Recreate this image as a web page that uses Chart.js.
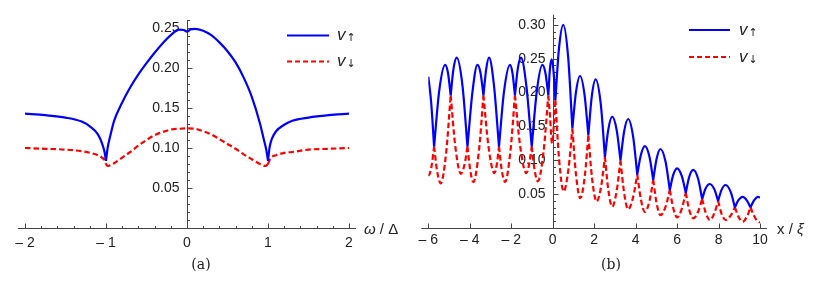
<!DOCTYPE html>
<html>
<head>
<meta charset="utf-8">
<script src="https://cdn.jsdelivr.net/npm/chart.js@4.4.1/dist/chart.umd.min.js"></script>
<style>
html, body { margin: 0; padding: 0; background: #fff; }
#wrap { position: relative; width: 821px; height: 288px; }
canvas { position: absolute; top: 0; }
</style>
</head>
<body>
<div id="wrap">
    <canvas id="chartA" width="410" height="288" style="left:0"></canvas>
    <canvas id="chartB" width="411" height="288" style="left:410px"></canvas>
</div>
<script>
// ---- panel (a): v vs omega / Delta ----
const aCusps = [-1, 1];
const aUp = [
    [-2, 0.143], [-1.75, 0.141], [-1.5, 0.138], [-1.3, 0.133], [-1.2, 0.127], [-1.1, 0.117],
    [-1.05, 0.106], [-1.02, 0.096], [-1, 0.084], [-0.98, 0.100], [-0.95, 0.114], [-0.9, 0.134],
    [-0.8, 0.157], [-0.7, 0.176], [-0.6, 0.192], [-0.5, 0.206], [-0.4, 0.219], [-0.3, 0.231],
    [-0.2, 0.241], [-0.1, 0.248], [-0.04, 0.2475], [0, 0.2455], [0.04, 0.248], [0.1, 0.249],
    [0.2, 0.2465], [0.3, 0.241], [0.4, 0.232], [0.5, 0.221], [0.6, 0.207], [0.7, 0.188],
    [0.8, 0.164], [0.9, 0.131], [0.95, 0.110], [0.98, 0.097], [1, 0.084], [1.02, 0.101],
    [1.05, 0.112], [1.1, 0.121], [1.2, 0.129], [1.3, 0.134], [1.5, 0.138], [1.75, 0.141], [2, 0.143]
];
const aDown = [
    [-2, 0.100], [-1.75, 0.099], [-1.5, 0.098], [-1.3, 0.096], [-1.2, 0.094], [-1.1, 0.091],
    [-1.05, 0.088], [-1.02, 0.085], [-1, 0.080], [-0.98, 0.0775], [-0.9, 0.081], [-0.8, 0.088],
    [-0.7, 0.095], [-0.6, 0.103], [-0.5, 0.110], [-0.4, 0.116], [-0.3, 0.120], [-0.2, 0.123],
    [-0.1, 0.124], [0, 0.1245], [0.1, 0.124], [0.2, 0.121], [0.3, 0.117], [0.4, 0.111],
    [0.5, 0.105], [0.6, 0.099], [0.7, 0.092], [0.8, 0.086], [0.9, 0.080], [0.97, 0.0775],
    [1, 0.080], [1.02, 0.085], [1.05, 0.089], [1.1, 0.091], [1.2, 0.094], [1.3, 0.095],
    [1.5, 0.098], [1.75, 0.099], [2, 0.100]
];
const aXTicks = [-2, -1, 0, 1, 2];
const aXLabels = ['\u2013 2', '\u2013 1', '0', '1', '2'];
const aYTicks = [0.05, 0.10, 0.15, 0.20, 0.25];
const aYLabels = ['0.05', '0.10', '0.15', '0.20', '0.25'];

// ---- panel (b): v vs x / xi ----
const bCusps = [-5.72, -4.92, -4.11, -3.34, -2.59, -1.82, -1.01, -0.21, 0.13, 0.95, 1.72,
    2.52, 3.27, 4.08, 4.85, 5.65, 6.42, 7.21, 7.98, 8.79, 9.54];
const bUp = [
    [-6, 0.2235], [-5.86, 0.185], [-5.72, 0.120],
    [-5.48, 0.201], [-5.19, 0.241], [-5.05, 0.229], [-4.92, 0.196],
    [-4.79, 0.234], [-4.63, 0.2516], [-4.35, 0.210], [-4.11, 0.120],
    [-3.87, 0.201], [-3.63, 0.241], [-3.48, 0.229], [-3.34, 0.196],
    [-3.21, 0.234], [-3.07, 0.2516], [-2.83, 0.210], [-2.59, 0.120],
    [-2.35, 0.201], [-2.06, 0.241], [-1.94, 0.229], [-1.82, 0.196],
    [-1.69, 0.234], [-1.53, 0.2516], [-1.27, 0.210], [-1.01, 0.120],
    [-0.77, 0.201], [-0.50, 0.241], [-0.35, 0.229], [-0.21, 0.196],
    [-0.13, 0.236], [-0.04, 0.249], [0.05, 0.228], [0.13, 0.189],
    [0.30, 0.264], [0.51, 0.300], [0.75, 0.251], [0.95, 0.147],
    [1.12, 0.200], [1.32, 0.2245], [1.54, 0.196], [1.72, 0.137],
    [1.88, 0.193], [2.07, 0.2196], [2.32, 0.183], [2.52, 0.105],
    [2.68, 0.145], [2.87, 0.1644], [3.09, 0.144], [3.27, 0.100],
    [3.44, 0.1415], [3.64, 0.161], [3.88, 0.135], [4.08, 0.079],
    [4.25, 0.1075], [4.45, 0.121], [4.67, 0.105], [4.85, 0.071],
    [5.01, 0.102], [5.20, 0.1167], [5.45, 0.097], [5.65, 0.056],
    [5.81, 0.078], [6.00, 0.088], [6.23, 0.0765], [6.42, 0.052],
    [6.58, 0.075], [6.78, 0.0857], [7.02, 0.072], [7.21, 0.0428],
    [7.37, 0.058], [7.58, 0.065], [7.80, 0.057], [7.98, 0.040],
    [8.14, 0.056], [8.34, 0.0635], [8.59, 0.053], [8.79, 0.0305],
    [8.96, 0.041], [9.16, 0.046], [9.37, 0.0405], [9.54, 0.0305],
    [9.72, 0.041], [9.90, 0.046], [10, 0.045]
];
const bDown = [
    [-6, 0.077], [-5.92, 0.081], [-5.84, 0.092], [-5.72, 0.120],
    [-5.58, 0.085], [-5.40, 0.066], [-5.14, 0.111], [-4.92, 0.196],
    [-4.70, 0.121], [-4.43, 0.080], [-4.25, 0.094], [-4.11, 0.120],
    [-3.98, 0.086], [-3.83, 0.068], [-3.56, 0.113], [-3.34, 0.196],
    [-3.10, 0.121], [-2.81, 0.081], [-2.69, 0.095], [-2.59, 0.120],
    [-2.46, 0.086], [-2.30, 0.068], [-2.04, 0.113], [-1.82, 0.196],
    [-1.57, 0.121], [-1.27, 0.081], [-1.13, 0.095], [-1.01, 0.120],
    [-0.88, 0.087], [-0.72, 0.069], [-0.44, 0.113], [-0.21, 0.196],
    [-0.13, 0.165], [-0.03, 0.125], [0.05, 0.150], [0.13, 0.189],
    [0.31, 0.101], [0.53, 0.054], [0.76, 0.087], [0.95, 0.147],
    [1.12, 0.080], [1.33, 0.044], [1.55, 0.077], [1.72, 0.137],
    [1.90, 0.073], [2.12, 0.039], [2.34, 0.062], [2.52, 0.105],
    [2.68, 0.057], [2.87, 0.0315], [3.09, 0.0555], [3.27, 0.100],
    [3.44, 0.053], [3.64, 0.0276], [3.88, 0.0456], [4.08, 0.079],
    [4.25, 0.043], [4.45, 0.0236], [4.67, 0.040], [4.85, 0.071],
    [5.01, 0.037], [5.20, 0.019], [5.45, 0.032], [5.65, 0.056],
    [5.81, 0.030], [6.00, 0.0158], [6.23, 0.0285], [6.42, 0.052],
    [6.58, 0.0275], [6.78, 0.0143], [7.02, 0.0243], [7.21, 0.0428],
    [7.38, 0.0228], [7.58, 0.0118], [7.80, 0.022], [7.98, 0.040],
    [8.14, 0.0217], [8.34, 0.0118], [8.59, 0.0185], [8.79, 0.0305],
    [8.96, 0.0167], [9.16, 0.0093], [9.37, 0.0167], [9.54, 0.0305],
    [9.70, 0.019], [9.85, 0.011], [10, 0.0078]
];
const bXTicks = [-6, -4, -2, 0, 2, 4, 6, 8, 10];
const bXLabels = ['\u2013 6', '\u2013 4', '\u2013 2', '0', '2', '4', '6', '8', '10'];
const bYTicks = [0.05, 0.10, 0.15, 0.20, 0.25, 0.30];
const bYLabels = ['0.05', '0.10', '0.15', '0.20', '0.25', '0.30'];

const BLUE = '#0000ff';
const RED = '#ff0000';
const AXIS = '#444';
const TEXT = '#222';
const SANS = '"Liberation Sans", Arial, sans-serif';

// break the line at each cusp so the curve keeps its sharp corner
function toPoints(pairs, cusps) {
    const pts = [];
    pairs.forEach(([x, v], i) => {
        pts.push({ x: x, y: v });
        if (cusps.includes(x) && i > 0 && i < pairs.length - 1) {
            pts.push({ x: x, y: null });
            pts.push({ x: x, y: v });
        }
    });
    return pts;
}

function drawV(ctx, x, y, arrow) {
    ctx.fillStyle = TEXT;
    ctx.textAlign = 'left';
    ctx.textBaseline = 'alphabetic';
    ctx.font = 'italic 17px ' + SANS;
    ctx.fillText('v', x, y + 4.5);
    ctx.font = '11px "DejaVu Sans", sans-serif';
    ctx.textBaseline = 'middle';
    ctx.fillText(arrow, x + 9.5, y + 3);
}

function framePlugin(cfg) {
    return {
        id: 'frame',
        beforeDatasetsDraw(chart) {
            const { ctx } = chart;
            const xs = chart.scales.x, ys = chart.scales.y;
            const x0 = Math.round(xs.getPixelForValue(0)) + 0.5;
            const y0 = Math.round(ys.getPixelForValue(0)) + 0.5;
            ctx.save();
            ctx.strokeStyle = AXIS;
            ctx.lineWidth = 1;
            ctx.beginPath();
            ctx.moveTo(xs.left - cfg.ext, y0);
            ctx.lineTo(xs.right + cfg.ext, y0);
            ctx.moveTo(x0, y0);
            ctx.lineTo(x0, ys.top);
            // x ticks
            const xStep = cfg.xMinor || 0;
            if (xStep) {
                for (let v = xs.min; v <= xs.max + 1e-9; v += xStep) {
                    const px = Math.round(xs.getPixelForValue(v)) + 0.5;
                    ctx.moveTo(px, y0); ctx.lineTo(px, y0 - 2.5);
                }
            }
            cfg.xTicks.forEach(v => {
                const px = Math.round(xs.getPixelForValue(v)) + 0.5;
                ctx.moveTo(px, y0); ctx.lineTo(px, y0 - 5);
            });
            // y ticks
            for (let v = 0.01; v <= ys.max + 1e-9; v += 0.01) {
                const py = Math.round(ys.getPixelForValue(v)) + 0.5;
                ctx.moveTo(x0, py); ctx.lineTo(x0 + 2.5, py);
            }
            cfg.yTicks.forEach(v => {
                const py = Math.round(ys.getPixelForValue(v)) + 0.5;
                ctx.moveTo(x0, py); ctx.lineTo(x0 + 5, py);
            });
            ctx.stroke();

            ctx.fillStyle = TEXT;
            ctx.font = '14px ' + SANS;
            ctx.textAlign = 'center';
            ctx.textBaseline = 'middle';
            cfg.xTicks.forEach((v, i) => {
                ctx.fillText(cfg.xLabels[i], xs.getPixelForValue(v), y0 + cfg.xLabelDy);
            });
            ctx.textAlign = 'right';
            cfg.yTicks.forEach((v, i) => {
                ctx.fillText(cfg.yLabels[i], x0 - 8, ys.getPixelForValue(v));
            });
            ctx.restore();
        },
        afterDraw(chart) {
            const { ctx } = chart;
            ctx.save();
            // axis label
            ctx.fillStyle = TEXT;
            ctx.textBaseline = 'alphabetic';
            ctx.textAlign = 'left';
            let tx = cfg.axisLabelX;
            cfg.axisLabel.forEach(([txt, style]) => {
                ctx.font = style + ' 15px ' + SANS;
                ctx.fillText(txt, tx, 234);
                tx += ctx.measureText(txt).width;
            });
            // caption
            ctx.font = '14px "DejaVu Serif", "Liberation Serif", serif';
            ctx.textAlign = 'center';
            ctx.textBaseline = 'middle';
            ctx.fillText(cfg.caption, 201, 265.5);
            // legend
            const L = cfg.legend;
            ctx.lineWidth = 2;
            ctx.strokeStyle = BLUE;
            ctx.beginPath();
            ctx.moveTo(L.x1, L.y1); ctx.lineTo(L.x2, L.y1);
            ctx.stroke();
            ctx.strokeStyle = RED;
            ctx.setLineDash([5, 3]);
            ctx.beginPath();
            ctx.moveTo(L.x1, L.y2); ctx.lineTo(L.x2, L.y2);
            ctx.stroke();
            ctx.setLineDash([]);
            drawV(ctx, L.tx, L.y1, '\u2191');
            drawV(ctx, L.tx, L.y2, '\u2193');
            ctx.restore();
        }
    };
}

function makeChart(id, up, down, cusps, xRange, yMax, pad, cfg) {
    return new Chart(document.getElementById(id), {
        type: 'line',
        data: {
            datasets: [{
                label: 'v up',
                data: toPoints(up, cusps),
                borderColor: BLUE,
                borderWidth: 2.2
            }, {
                label: 'v down',
                data: toPoints(down, cusps),
                borderColor: RED,
                borderWidth: 2.2,
                borderDash: [5.5, 3]
            }]
        },
        options: {
            responsive: false,
            animation: false,
            devicePixelRatio: 1,
            layout: { padding: pad },
            elements: {
                point: { radius: 0 },
                line: { cubicInterpolationMode: 'monotone' }
            },
            plugins: {
                legend: { display: false },
                tooltip: { enabled: false }
            },
            scales: {
                x: { type: 'linear', min: xRange[0], max: xRange[1], display: false },
                y: { min: 0, max: yMax, display: false }
            }
        },
        plugins: [framePlugin(cfg)]
    });
}

makeChart('chartA', aUp, aDown, aCusps, [-2, 2], 0.26,
    { left: 25, right: 61, top: 20, bottom: 60 },
    {
        ext: 7, xMinor: 0.2, xTicks: aXTicks, xLabels: aXLabels,
        yTicks: aYTicks, yLabels: aYLabels, xLabelDy: 14.5,
        axisLabel: [['\u03c9', 'italic'], [' / ', 'normal'], ['\u0394', 'normal']],
        axisLabelX: 364, caption: '(a)',
        legend: { x1: 287, x2: 329, y1: 35.5, y2: 61.5, tx: 337 }
    });

makeChart('chartB', bUp, bDown, bCusps, [-6, 10], 0.315,
    { left: 18.3, right: 61, top: 14.7, bottom: 60 },
    {
        ext: 7, xMinor: 0, xTicks: bXTicks, xLabels: bXLabels,
        yTicks: bYTicks, yLabels: bYLabels, xLabelDy: 11.5,
        axisLabel: [['x', 'normal'], [' / ', 'normal'], ['\u03be', 'italic']],
        axisLabelX: 367, caption: '(b)',
        legend: { x1: 279, x2: 320, y1: 30, y2: 57, tx: 329 }
    });
</script>
</body>
</html>
